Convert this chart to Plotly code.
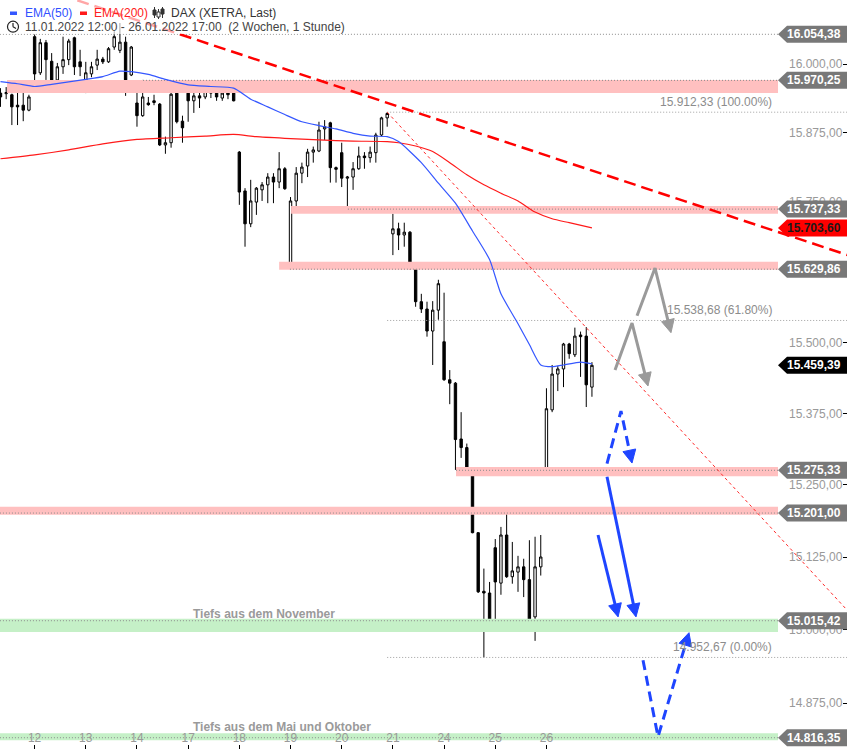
import math
import plotly.graph_objects as go

# ------------------------------------------------------------------ data
candle_open = [15947, 15946, 15944, 15925, 15925, 15916,
               16050, 15984, 16039, 16005, 15971, 15995, 16008, 16048, 16004,
               15958, 15982, 15998, 16009, 16004, 16031, 16025, 16040, 15980,
               15929, 15906, 15929, 15933, 15927, 15853, 15857, 15947, 15896,
               15947, 15933, 15942, 15940, 15947, 15956, 15938, 15949, 15947,
               15840, 15770, 15711, 15750, 15772, 15781, 15795, 15786, 15810,
               15637, 15752, 15802, 15815, 15840, 15842, 15882, 15893, 15812,
               15839, 15793, 15795, 15810, 15833, 15830, 15839, 15871, 15902,
               15693, 15702, 15691, 15696, 15634, 15572, 15559, 15520, 15557,
               15501, 15434, 15428, 15330, 15315, 15276, 15167, 15066, 15063,
               15141, 15080, 15163, 15091, 15099, 15108, 15086, 15022, 15108,
               15276, 15381, 15444, 15453, 15497, 15478, 15513, 15511, 15421]
candle_high = [15956, 15958, 15946, 15953, 15955, 15944,
               16054, 16046, 16044, 16020, 16002, 16050, 16046, 16050, 16026,
               16004, 16004, 16026, 16013, 16031, 16060, 16075, 16050, 16033,
               15952, 15971, 15940, 15944, 15929, 15868, 15953, 15953, 15906,
               15960, 15958, 15956, 15962, 15962, 15962, 15956, 15960, 15949,
               15842, 15775, 15790, 15777, 15786, 15802, 15802, 15840, 15813,
               15759, 15813, 15821, 15846, 15850, 15895, 15898, 15895, 15814,
               15857, 15797, 15822, 15850, 15840, 15850, 15875, 15904, 15912.33,
               15729, 15713, 15713, 15698, 15634, 15586, 15572, 15573, 15611,
               15588, 15451, 15430, 15377, 15322, 15276, 15168, 15105, 15082,
               15156, 15177, 15206, 15151, 15127, 15122, 15154, 15160, 15163,
               15419, 15460, 15458, 15499, 15499, 15526, 15519, 15527, 15465]
candle_low = [15922, 15936, 15889, 15889, 15896, 15914,
              15958, 15980, 15971, 15967, 15967, 15982, 15998, 15980, 15978,
              15947, 15976, 15989, 16000, 16002, 16026, 16020, 15942, 15978,
              15886, 15904, 15924, 15925, 15851, 15837, 15848, 15892, 15857,
              15895, 15911, 15920, 15936, 15938, 15933, 15933, 15936, 15932,
              15745, 15670, 15705, 15727, 15752, 15748, 15748, 15775, 15772,
              15630, 15736, 15784, 15795, 15821, 15840, 15862, 15785, 15785,
              15777, 15737, 15772, 15808, 15810, 15821, 15821, 15869, 15886,
              15655, 15664, 15670, 15629, 15563, 15552, 15510, 15460, 15540,
              15432, 15391, 15276, 15297, 15275.33, 15166, 15063, 14952.67, 15010,
              15000, 15060, 15089, 15079, 15065, 15056, 15012, 14981, 15093,
              15275.33, 15377, 15414, 15421, 15471, 15474, 15439, 15386, 15404]
candle_close = [15940, 15948, 15922, 15922, 15916, 15940,
                15982, 16039, 16008, 15971, 15995, 16008, 16042, 15995, 15995,
                15984, 15995, 16009, 16004, 16028, 16050, 16040, 15971, 16031,
                15906, 15940, 15926, 15930, 15853, 15857, 15945, 15895, 15884,
                15933, 15942, 15938, 15956, 15958, 15940, 15947, 15944, 15933,
                15768, 15711, 15752, 15775, 15781, 15795, 15786, 15810, 15774,
                15752, 15802, 15813, 15840, 15844, 15880, 15886, 15812, 15809,
                15793, 15795, 15810, 15833, 15830, 15840, 15871, 15902, 15910,
                15702, 15691, 15696, 15634, 15572, 15559, 15520, 15557, 15604,
                15434, 15428, 15329, 15315, 15276, 15167, 15065, 15063, 15012,
                15082, 15163, 15091, 15101, 15108, 15086, 15017, 15108, 15125,
                15383, 15444, 15453, 15497, 15480, 15511, 15510, 15425, 15459.39]

day_tick_index = [6, 15, 24, 33, 42, 51, 60, 69, 78, 87, 96]
day_tick_label = ["12", "13", "14", "17", "18", "19", "20", "21", "24", "25", "26"]

ema50_index = [0, 3, 6, 9, 15, 18, 21, 23, 26, 29, 33, 37, 41, 44, 47, 50, 53, 56,
               59, 62, 65, 68, 70, 74, 77, 80, 83, 86, 88, 91, 93, 95, 97, 99, 102, 104]
ema50_value = [15968, 15964, 15959, 15963, 15972, 15977, 15987, 15986, 15981, 15972,
               15962, 15959, 15956, 15936, 15922, 15908, 15895, 15888, 15882, 15874,
               15869, 15868, 15859, 15821, 15784, 15748, 15698, 15647, 15586, 15533,
               15496, 15460, 15457, 15460, 15465, 15462]
ema200_index = [0, 6, 12, 18, 24, 30, 36, 41, 45, 50, 56, 62, 68, 70, 73, 76, 79, 82,
                85, 88, 91, 94, 97, 100, 104]
ema200_value = [15828, 15835, 15844, 15855, 15863, 15866, 15869, 15872, 15868, 15865,
                15862, 15860, 15859, 15857, 15851, 15841, 15821, 15799, 15781, 15766,
                15752, 15732, 15720, 15713, 15703.60]

y_tick_values = [14875, 15000, 15125, 15250, 15375, 15500, 15625, 15750, 15875, 16000, 16125]
y_tick_labels = ["14.875,00", "15.000,00", "15.125,00", "15.250,00", "15.375,00",
                 "15.500,00", "15.625,00", "15.750,00", "15.875,00", "16.000,00", "16.125,00"]

tag_values = [16054.38, 15970.25, 15737.33, 15703.60, 15629.86, 15459.39,
              15275.33, 15201.00, 15015.42, 14816.35]
tag_labels = ["16.054,38", "15.970,25", "15.737,33", "15.703,60", "15.629,86",
              "15.459,39", "15.275,33", "15.201,00", "15.015,42", "14.816,35"]
tag_kind = ["level", "level", "level", "ema200", "level", "last",
            "level", "level", "level", "level"]

level_values = [16054.38, 15970.25, 15737.33, 15629.86, 15275.33, 15201.00, 15015.42, 14816.35]
level_start = [-0.1, 25.06, 61.1, 50.9, 80.1, -0.1, -0.1, -0.1]

zone_top = [15971, 15743, 15643, 15281, 15212, 15019, 14824]
zone_bottom = [15947, 15729, 15629, 15265, 15198, 14996, 14812]
zone_start = [1.15, 51.1, 49.0, 80.1, -0.1, -0.1, -0.1]
zone_kind = ["res", "res", "res", "res", "res", "sup", "sup"]

fib_values = [15912.33, 15538.68, 14952.67]
fib_labels = ["15.912,33 (100.00%)", "15.538,68 (61.80%)", "14.952,67 (0.00%)"]
fib_start = [68.0, 68.0, 68.0]

zone_notes = ["Tiefs aus dem November", "Tiefs aus dem Mai und Oktober"]
zone_note_levels = [15015.42, 14816.35]

trend_major_x = [10.5, 149.0]
trend_major_y = [16127, 15655]
trend_minor_x = [68.0, 149.4]
trend_minor_y = [15912.33, 15028]

gray_a_x = [108.06, 111.05, 113.86]
gray_a_y = [15451, 15534, 15423]
gray_b_x = [111.93, 115.09, 117.9]
gray_b_y = [15547, 15632, 15517]
blue_solid1_x = [105.07, 108.6]
blue_solid1_y = [15163, 15022]
blue_solid2_x = [106.65, 111.75]
blue_solid2_y = [15264, 15022]
blue_dash1_x = [106.65, 109.11, 111.05]
blue_dash1_y = [15287, 15379, 15288]
blue_dash2_x = [112.98, 115.62, 121.07]
blue_dash2_y = [14948, 14818, 14995]

# ------------------------------------------------------------------ geometry
W, H = 847, 749
X0, X1 = -0.085, 148.85
LY0, LY1 = math.log10(14797.3), math.log10(16117.3)
PX_LOG = (LY1 - LY0) / H  # log10 units per pixel


def to_px(i, p):
    return (i - X0) / (X1 - X0) * W, (LY1 - math.log10(p)) / (LY1 - LY0) * H


def to_data(x, y):
    return X0 + x / W * (X1 - X0), 10 ** (LY1 - y / H * (LY1 - LY0))


def xi(px):
    return X0 + px / W * (X1 - X0)


def py(p):
    return 1 - p / H


FONT = "Liberation Sans, Arial, sans-serif"
PINK = "rgb(255,192,192)"
GREEN = "rgb(197,240,199)"
BLUE = "#1f45ff"
GRAY_ARROW = "#9a9a9a"

fig = go.Figure()

TAG_TIP = xi(778)
TAG_BASE = xi(787)
TAG_END = 150.0

# zones
for t, b, s, k in zip(zone_top, zone_bottom, zone_start, zone_kind):
    fig.add_trace(go.Scatter(x=[s, TAG_TIP, TAG_TIP, s, s], y=[t, t, b, b, t],
                             mode="lines", fill="toself", line=dict(width=0),
                             fillcolor=PINK if k == "res" else GREEN, hoverinfo="skip"))

# level dotted lines
for v, s in zip(level_values, level_start):
    fig.add_trace(go.Scatter(x=[s, TAG_TIP], y=[v, v], mode="lines",
                             line=dict(color="#8a8a8a", width=1, dash="1px,2px"), hoverinfo="skip"))
for v, s in zip(fib_values, fib_start):
    fig.add_trace(go.Scatter(x=[s, TAG_END], y=[v, v], mode="lines",
                             line=dict(color="#a0a0a0", width=1, dash="1px,2px"), hoverinfo="skip"))

# EMAs
fig.add_trace(go.Scatter(x=ema200_index, y=ema200_value, mode="lines",
                         line=dict(color="#ff1a1a", width=1.2, shape="spline", smoothing=0.6), hoverinfo="skip"))
fig.add_trace(go.Scatter(x=ema50_index, y=ema50_value, mode="lines",
                         line=dict(color="#3557ff", width=1.2, shape="spline", smoothing=0.6), hoverinfo="skip"))

# candles
fig.add_trace(go.Candlestick(
    x=list(range(len(candle_open))), open=candle_open, high=candle_high,
    low=candle_low, close=candle_close,
    increasing=dict(line=dict(color="black", width=1), fillcolor="white"),
    decreasing=dict(line=dict(color="black", width=1), fillcolor="black"),
    whiskerwidth=0, hoverinfo="skip"))

# trend lines
fig.add_trace(go.Scatter(x=trend_major_x, y=trend_major_y, mode="lines",
                         line=dict(color="#ff0000", width=2.5, dash="12px,6px"), hoverinfo="skip"))
fig.add_trace(go.Scatter(x=trend_minor_x, y=trend_minor_y, mode="lines",
                         line=dict(color="#ff2a2a", width=1, dash="3px,3px"), hoverinfo="skip"))


def add_arrow(xs, ys, color, dash, head_len=13, half=6.5, width=3):
    pts = [to_px(a, b) for a, b in zip(xs, ys)]
    (x1, y1), (x2, y2) = pts[-2], pts[-1]
    L = math.hypot(x2 - x1, y2 - y1)
    ux, uy = (x2 - x1) / L, (y2 - y1) / L
    bx, by = x2 - ux * head_len, y2 - uy * head_len
    line_pts = pts[:-1] + [(x2 - ux * (head_len - 2), y2 - uy * (head_len - 2))]
    ld = [to_data(a, b) for a, b in line_pts]
    fig.add_trace(go.Scatter(x=[d[0] for d in ld], y=[d[1] for d in ld], mode="lines",
                             line=dict(color=color, width=width, dash=dash), hoverinfo="skip"))
    tri = [(x2, y2), (bx - uy * half, by + ux * half), (bx + uy * half, by - ux * half), (x2, y2)]
    td = [to_data(a, b) for a, b in tri]
    fig.add_trace(go.Scatter(x=[d[0] for d in td], y=[d[1] for d in td], mode="lines",
                             fill="toself", fillcolor=color, line=dict(color=color, width=1),
                             hoverinfo="skip"))


add_arrow(gray_a_x, gray_a_y, GRAY_ARROW, "solid")
add_arrow(gray_b_x, gray_b_y, GRAY_ARROW, "solid")
add_arrow(blue_solid1_x, blue_solid1_y, BLUE, "solid")
add_arrow(blue_solid2_x, blue_solid2_y, BLUE, "solid")
add_arrow(blue_dash1_x, blue_dash1_y, BLUE, "10px,6px")
add_arrow(blue_dash2_x, blue_dash2_y, BLUE, "10px,6px")

# price tags
tag_fill = {"level": "#787878", "ema200": "#ff0000", "last": "#000000"}
tag_text = {"level": "white", "ema200": "#1a1a1a", "last": "white"}
half = 10 ** (8.5 * PX_LOG)
annotations = []
for v, lab, k in zip(tag_values, tag_labels, tag_kind):
    hi, lo = v * half, v / half
    fig.add_trace(go.Scatter(x=[TAG_TIP, TAG_BASE, TAG_END, TAG_END, TAG_BASE, TAG_TIP],
                             y=[v, hi, hi, lo, lo, v], mode="lines", fill="toself",
                             fillcolor=tag_fill[k], line=dict(width=0), hoverinfo="skip"))
    annotations.append(dict(x=1, xref="paper", xanchor="right", xshift=-4,
                            y=math.log10(v), yref="y", yanchor="middle", showarrow=False,
                            text="<b>" + lab + "</b>",
                            font=dict(family=FONT, size=12, color=tag_text[k])))

for v, lab in zip(fib_values, fib_labels):
    annotations.append(dict(x=xi(774), xref="x", xanchor="right", y=math.log10(v), yref="y",
                            yanchor="bottom", yshift=1, showarrow=False, text=lab,
                            font=dict(family=FONT, size=12, color="#8c8c8c")))

for v, lab, ys in zip(zone_note_levels, zone_notes, [-2, 2]):
    annotations.append(dict(x=xi(191), xref="x", xanchor="left", y=math.log10(v), yref="y",
                            yanchor="bottom", yshift=ys, showarrow=False, text="<b>" + lab + "</b>",
                            font=dict(family=FONT, size=12, color="#9a9a9a")))

# legend block
shapes = [
    dict(type="rect", xref="paper", yref="paper", x0=0, x1=350 / W, y0=py(34), y1=1,
         fillcolor="rgba(255,255,255,0.65)", line=dict(width=0), layer="above"),
    dict(type="rect", xref="paper", yref="paper", x0=10 / W, x1=17 / W, y0=py(15), y1=py(11.5),
         fillcolor="#3557ff", line=dict(width=0), layer="above"),
    dict(type="rect", xref="paper", yref="paper", x0=80 / W, x1=87 / W, y0=py(15), y1=py(11.5),
         fillcolor="#ff1a1a", line=dict(width=0), layer="above"),
    dict(type="circle", xref="paper", yref="paper", x0=7.5 / W, x1=18.5 / W, y0=py(32.2), y1=py(21.2),
         line=dict(color="#222", width=1.2), layer="above"),
    dict(type="line", xref="paper", yref="paper", x0=13 / W, x1=13 / W, y0=py(26.7), y1=py(23),
         line=dict(color="#222", width=1.2), layer="above"),
    dict(type="line", xref="paper", yref="paper", x0=13 / W, x1=16 / W, y0=py(26.7), y1=py(28.5),
         line=dict(color="#222", width=1.2), layer="above"),
]
for cx, y_top, y_bot, b_top, b_bot, filled in [(154.5, 7, 18, 10, 15, True), (158.5, 9, 19, 12, 17, False),
                                              (162.5, 7, 18, 9, 14, True)]:
    shapes.append(dict(type="line", xref="paper", yref="paper", x0=cx / W, x1=cx / W,
                       y0=py(y_bot), y1=py(y_top), line=dict(color="#333", width=1), layer="above"))
    shapes.append(dict(type="rect", xref="paper", yref="paper", x0=(cx - 1.5) / W, x1=(cx + 1.5) / W,
                       y0=py(b_bot), y1=py(b_top), fillcolor="#333" if filled else "white",
                       line=dict(color="#333", width=1), layer="above"))

legend_items = [(23, 12.8, "EMA(50)", "#3050ff"), (92, 12.8, "EMA(200)", "#ff2020"),
                (169, 12.8, "DAX (XETRA, Last)", "#333333"),
                (23, 26.8, "11.01.2022 12:00 - 26.01.2022 17:00\u00a0\u00a0(2 Wochen, 1 Stunde)", "#444444")]
for x, y, t, c in legend_items:
    annotations.append(dict(x=x / W, y=py(y), xref="paper", yref="paper", xanchor="left",
                            yanchor="middle", showarrow=False, text=t,
                            font=dict(family=FONT, size=12, color=c)))

fig.update_layout(
    width=W, height=H, margin=dict(l=0, r=0, t=0, b=0),
    paper_bgcolor="white", plot_bgcolor="white", showlegend=False,
    boxgap=0.4,
    font=dict(family=FONT, size=12),
    xaxis=dict(range=[X0, X1], tickvals=day_tick_index, ticktext=day_tick_label,
               ticks="inside", ticklen=4, tickcolor="black", ticklabelposition="inside",
               tickfont=dict(family=FONT, size=12, color="#9a9a9a"), showgrid=False,
               zeroline=False, showline=False, rangeslider=dict(visible=False)),
    yaxis=dict(type="log", range=[LY0, LY1], side="right", tickvals=y_tick_values,
               ticktext=y_tick_labels, ticks="inside", ticklen=4, tickcolor="black",
               ticklabelposition="inside", tickfont=dict(family=FONT, size=12, color="#999999"),
               showgrid=False, zeroline=False, showline=False, layer="below traces"),
    shapes=shapes, annotations=annotations,
)

fig.write_html("out.html", config={"displayModeBar": False},
               post_script="document.body.style.margin='0';document.body.style.overflow='hidden';")
